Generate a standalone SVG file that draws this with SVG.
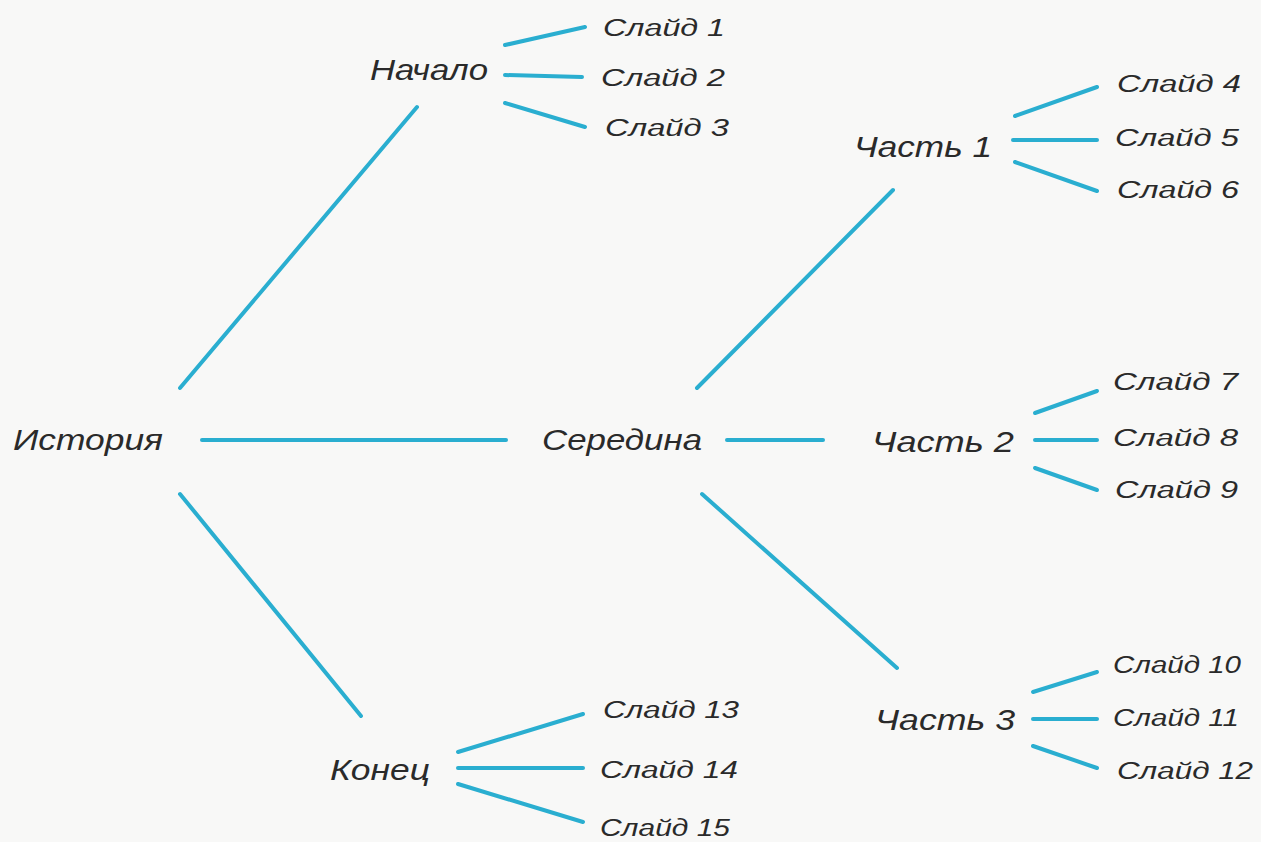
<svg xmlns="http://www.w3.org/2000/svg" width="1261" height="842" viewBox="0 0 1261 842">
<style>
.bg{fill:#f8f8f7}
.c line{stroke:#2aaed0;stroke-width:4;stroke-linecap:round}
text{font-family:"Liberation Sans","Noto Sans",sans-serif;font-style:italic;fill:#2a2a2a}
.m{font-size:29px}
.s{font-size:23px}
</style>
<rect class="bg" width="1261" height="842"/>
<g class="c" id="connectors">
<line x1="180" y1="388" x2="417" y2="107"/>
<line x1="202" y1="440" x2="506" y2="440"/>
<line x1="180" y1="494" x2="361" y2="716"/>
<line x1="505" y1="45" x2="585" y2="27"/>
<line x1="505" y1="75" x2="582" y2="77"/>
<line x1="505" y1="103" x2="585" y2="127"/>
<line x1="697" y1="388" x2="893" y2="190"/>
<line x1="727" y1="440" x2="823" y2="440"/>
<line x1="702" y1="494" x2="897" y2="668"/>
<line x1="1015" y1="116" x2="1097" y2="87"/>
<line x1="1013" y1="140" x2="1097" y2="140"/>
<line x1="1015" y1="162" x2="1097" y2="191"/>
<line x1="1035" y1="413" x2="1097" y2="391"/>
<line x1="1035" y1="440" x2="1097" y2="440"/>
<line x1="1035" y1="468" x2="1097" y2="490"/>
<line x1="1033" y1="692" x2="1097" y2="672"/>
<line x1="1033" y1="719" x2="1097" y2="719"/>
<line x1="1033" y1="746" x2="1097" y2="768"/>
<line x1="458" y1="752" x2="583" y2="714"/>
<line x1="458" y1="768" x2="583" y2="768"/>
<line x1="458" y1="784" x2="583" y2="822"/>
</g>
<g id="n-istoriya"><text class="m" x="13" y="450" textLength="150" lengthAdjust="spacingAndGlyphs">История</text></g>
<g id="n-nachalo"><text class="m" x="370" y="80" textLength="118" lengthAdjust="spacingAndGlyphs">Начало</text></g>
<g id="n-seredina"><text class="m" x="542" y="450" textLength="160" lengthAdjust="spacingAndGlyphs">Середина</text></g>
<g id="n-konec"><text class="m" x="330" y="780" textLength="100" lengthAdjust="spacingAndGlyphs">Конец</text></g>
<g id="n-chast1"><text class="m" x="854" y="157" textLength="138" lengthAdjust="spacingAndGlyphs">Часть 1</text></g>
<g id="n-chast2"><text class="m" x="872" y="452" textLength="142" lengthAdjust="spacingAndGlyphs">Часть 2</text></g>
<g id="n-chast3"><text class="m" x="875" y="730" textLength="140" lengthAdjust="spacingAndGlyphs">Часть 3</text></g>
<g id="s1"><text class="s" x="603" y="36" textLength="122" lengthAdjust="spacingAndGlyphs">Слайд 1</text></g>
<g id="s2"><text class="s" x="601" y="86" textLength="124" lengthAdjust="spacingAndGlyphs">Слайд 2</text></g>
<g id="s3"><text class="s" x="605" y="136" textLength="124" lengthAdjust="spacingAndGlyphs">Слайд 3</text></g>
<g id="s4"><text class="s" x="1117" y="92" textLength="124" lengthAdjust="spacingAndGlyphs">Слайд 4</text></g>
<g id="s5"><text class="s" x="1115" y="146" textLength="124" lengthAdjust="spacingAndGlyphs">Слайд 5</text></g>
<g id="s6"><text class="s" x="1117" y="198" textLength="122" lengthAdjust="spacingAndGlyphs">Слайд 6</text></g>
<g id="s7"><text class="s" x="1113" y="390" textLength="125" lengthAdjust="spacingAndGlyphs">Слайд 7</text></g>
<g id="s8"><text class="s" x="1113" y="446" textLength="125" lengthAdjust="spacingAndGlyphs">Слайд 8</text></g>
<g id="s9"><text class="s" x="1115" y="498" textLength="123" lengthAdjust="spacingAndGlyphs">Слайд 9</text></g>
<g id="s10"><text class="s" x="1113" y="673" textLength="128" lengthAdjust="spacingAndGlyphs">Слайд 10</text></g>
<g id="s11"><text class="s" x="1113" y="726" textLength="126" lengthAdjust="spacingAndGlyphs">Слайд 11</text></g>
<g id="s12"><text class="s" x="1117" y="779" textLength="136" lengthAdjust="spacingAndGlyphs">Слайд 12</text></g>
<g id="s13"><text class="s" x="603" y="718" textLength="136" lengthAdjust="spacingAndGlyphs">Слайд 13</text></g>
<g id="s14"><text class="s" x="600" y="778" textLength="138" lengthAdjust="spacingAndGlyphs">Слайд 14</text></g>
<g id="s15"><text class="s" x="600" y="836" textLength="130" lengthAdjust="spacingAndGlyphs">Слайд 15</text></g>
</svg>
